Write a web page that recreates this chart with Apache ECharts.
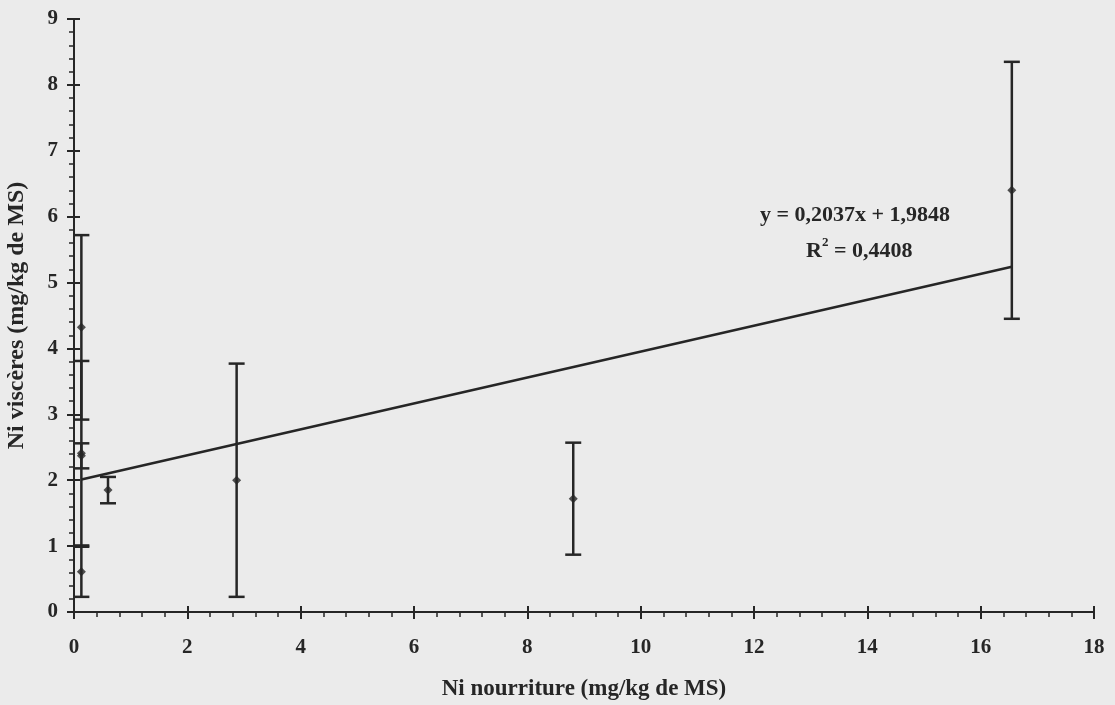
<!DOCTYPE html>
<html>
<head>
<meta charset="utf-8">
<script src="https://cdn.jsdelivr.net/npm/echarts@6/dist/echarts.min.js"></script>
<style>
html,body{margin:0;padding:0;background:#ebebeb;}
#chart{width:1115px;height:705px;}
</style>
</head>
<body>
<div id="chart"></div>
<script>
// ---- data ----
const xValues = [0.13, 0.13, 0.13, 0.13, 0.6, 2.87, 8.81, 16.55];
const yMeans  = [4.32, 2.41, 2.37, 0.61, 1.85, 2.00, 1.72, 6.40];
const yErrors = [1.40, 1.40, 0.19, 0.38, 0.20, 1.77, 0.85, 1.95];
const trendPoints = [[0.13, 2.01], [16.55, 5.24]];
const equationText = 'y = 0,2037x + 1,9848';
const r2Text = '0,4408';
const xTitle = 'Ni nourriture (mg/kg de MS)';
const yTitle = 'Ni viscères (mg/kg de MS)';

const ink = '#262626';
const fontFam = '"Liberation Serif","DejaVu Serif",serif';

const points = xValues.map((x, i) => [x, yMeans[i]]);
const errData = xValues.map((x, i) => [x, yMeans[i] - yErrors[i], yMeans[i] + yErrors[i]]);

const innerTicks = {
  axisLine: {show: false},
  axisTick: {show: true, inside: true, length: 6, lineStyle: {color: ink, width: 2}},
  axisLabel: {show: false},
  splitLine: {show: false}
};

const chart = echarts.init(document.getElementById('chart'));
chart.setOption({
  backgroundColor: '#ebebeb',
  animation: false,
  grid: {left: 74, right: 21, top: 19, bottom: 93, containLabel: false, outerBoundsMode: 'none'},
  xAxis: [{
    type: 'value', min: 0, max: 18, interval: 2,
    name: xTitle, nameLocation: 'middle', nameGap: 66,
    nameTextStyle: {fontFamily: fontFam, fontWeight: 'bold', fontSize: 23, color: ink},
    axisLine: {show: true, onZero: false, lineStyle: {color: ink, width: 2}},
    axisTick: {show: true, length: 7, lineStyle: {color: ink, width: 2}},
    minorTick: {show: true, splitNumber: 5, length: 5, lineStyle: {color: ink, width: 1.5}},
    splitLine: {show: false},
    axisLabel: {margin: 25, fontFamily: fontFam, fontWeight: 'bold', fontSize: 21, color: ink}
  }, Object.assign({type: 'value', min: 0, max: 18, interval: 2, position: 'bottom'}, innerTicks)],
  yAxis: [{
    type: 'value', min: 0, max: 9, interval: 1,
    name: yTitle, nameLocation: 'middle', nameGap: 45, nameRotate: 90,
    nameTextStyle: {fontFamily: fontFam, fontWeight: 'bold', fontSize: 24, color: ink},
    axisLine: {show: true, onZero: false, lineStyle: {color: ink, width: 2}},
    axisTick: {show: true, length: 7, lineStyle: {color: ink, width: 2}},
    minorTick: {show: true, splitNumber: 5, length: 5, lineStyle: {color: ink, width: 1.5}},
    splitLine: {show: false},
    axisLabel: {margin: 16, fontFamily: fontFam, fontWeight: 'bold', fontSize: 21, color: ink}
  }, Object.assign({type: 'value', min: 0, max: 9, interval: 1, position: 'left'}, innerTicks)],
  series: [
    {
      type: 'custom',
      data: errData,
      z: 3,
      renderItem: function (params, api) {
        const x = api.value(0);
        const lo = api.coord([x, api.value(1)]);
        const hi = api.coord([x, api.value(2)]);
        const hw = 8;
        const st = {stroke: ink, lineWidth: 2.5};
        return {
          type: 'group',
          children: [
            {type: 'line', shape: {x1: lo[0], y1: lo[1], x2: hi[0], y2: hi[1]}, style: st},
            {type: 'line', shape: {x1: lo[0] - hw, y1: lo[1], x2: lo[0] + hw, y2: lo[1]}, style: st},
            {type: 'line', shape: {x1: hi[0] - hw, y1: hi[1], x2: hi[0] + hw, y2: hi[1]}, style: st}
          ]
        };
      }
    },
    {
      type: 'line',
      data: trendPoints,
      symbol: 'none',
      z: 4,
      lineStyle: {color: ink, width: 2.5}
    },
    {
      type: 'scatter',
      data: points,
      symbol: 'diamond',
      symbolSize: 9,
      z: 5,
      itemStyle: {color: ink}
    }
  ],
  graphic: [
    {
      type: 'text', left: 760, top: 204,
      style: {text: equationText, font: 'bold 22px ' + fontFam, fill: ink}
    },
    {
      type: 'text', left: 806, top: 236,
      style: {
        text: '{a|R}{s|2}{a| = ' + r2Text + '}',
        rich: {
          a: {font: 'bold 22px ' + fontFam, fill: ink, verticalAlign: 'bottom', lineHeight: 26},
          s: {font: 'bold 13px ' + fontFam, fill: ink, verticalAlign: 'top', lineHeight: 26}
        }
      }
    }
  ]
});
</script>
</body>
</html>
